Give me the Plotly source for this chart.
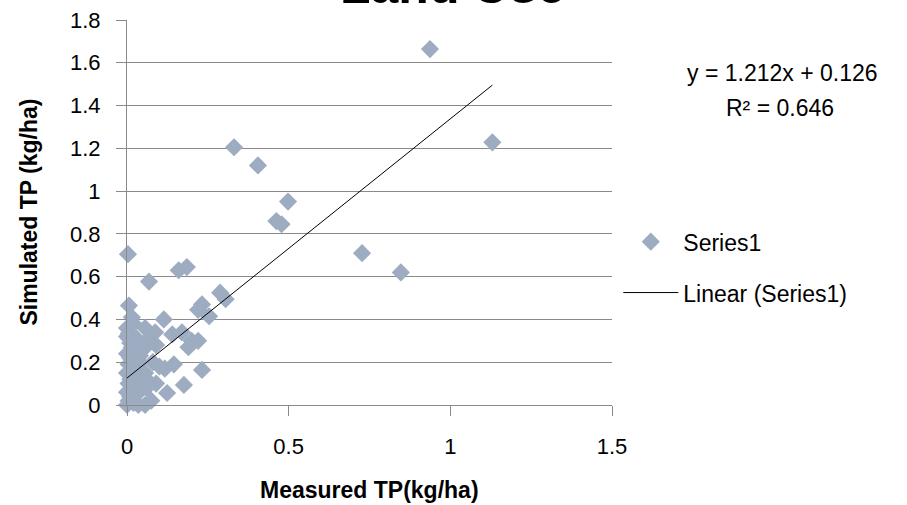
import plotly.graph_objects as go

# Measured vs simulated TP (kg/ha)
measured = [0.937, 1.130, 0.331, 0.405, 0.498, 0.462, 0.478, 0.727, 0.847,
            0.003, 0.160, 0.185, 0.068, 0.288, 0.305, 0.232, 0.220, 0.254,
            0.006, 0.015, 0.114, 0.056, 0.087, 0.140, 0.170, 0.200, 0.220,
            0.006, 0.015, 0.190, 0.117, 0.145, 0.232, 0.176, 0.124, 0.056,
            0.056, 0.075, 0.030,
            0.000, 0.005, 0.010, 0.000, 0.020, 0.005, 0.010, 0.030, 0.000,
            0.020, 0.005, 0.040, 0.010, 0.000, 0.020, 0.040, 0.010, 0.030,
            0.000, 0.020, 0.050, 0.060, 0.045, 0.060, 0.035, 0.090, 0.080,
            0.100, 0.090, 0.060, 0.020, 0.015, 0.000, 0.030]
simulated = [1.664, 1.228, 1.205, 1.120, 0.951, 0.860, 0.845, 0.710, 0.620,
             0.705, 0.630, 0.645, 0.577, 0.525, 0.495, 0.470, 0.445, 0.415,
             0.465, 0.410, 0.400, 0.360, 0.340, 0.330, 0.340, 0.300, 0.300,
             0.335, 0.270, 0.270, 0.170, 0.190, 0.164, 0.094, 0.056, 0.150,
             0.000, 0.020, 0.050,
             0.000, 0.020, 0.040, 0.060, 0.080, 0.100, 0.120, 0.130, 0.150,
             0.170, 0.190, 0.200, 0.220, 0.240, 0.250, 0.230, 0.290, 0.310,
             0.360, 0.380, 0.260, 0.300, 0.100, 0.080, 0.000, 0.100, 0.200,
             0.180, 0.280, 0.120, 0.010, 0.140, 0.320, 0.190]

# Trendline coefficients as printed on the chart
slope = 1.212
intercept = 0.126
r_squared = 0.646

x_ticks = [0, 0.5, 1, 1.5]
y_ticks = [0, 0.2, 0.4, 0.6, 0.8, 1.0, 1.2, 1.4, 1.6, 1.8]

FONT = "Liberation Sans, Arial, sans-serif"
GRID = "#8a8a8a"

x_fit = [min(measured), max(measured)]
y_fit = [slope * v + intercept for v in x_fit]

fig = go.Figure()
fig.add_trace(go.Scatter(
    x=measured, y=simulated, mode="markers", name="Series1",
    marker=dict(symbol="diamond", size=14, color="#9DACC0", line=dict(width=0)),
    cliponaxis=False, legendgroup="a"))
fig.add_trace(go.Scatter(
    x=x_fit, y=y_fit, mode="lines", name="Linear (Series1)",
    line=dict(color="black", width=1), legendgroup="b"))

fig.update_layout(
    width=907, height=505,
    margin=dict(l=127, r=295, t=20, b=100),
    plot_bgcolor="white", paper_bgcolor="white",
    font=dict(family=FONT, size=22, color="black"),
    showlegend=True,
    legend=dict(x=1.013, xanchor="left", y=0.48, yanchor="top",
                font=dict(size=23), tracegroupgap=18, itemwidth=55,
                bgcolor="rgba(0,0,0,0)"),
    xaxis=dict(range=[0, 1.5], tickvals=x_ticks, showgrid=False,
               showline=True, linecolor=GRID, linewidth=1,
               ticks="outside", ticklen=10, tickcolor=GRID,
               ticklabelstandoff=12, zeroline=False, automargin=False,
               ticklabeloverflow="allow"),
    yaxis=dict(range=[0, 1.8], tickvals=y_ticks, showgrid=True,
               gridcolor=GRID, gridwidth=1,
               showline=True, linecolor=GRID, linewidth=1,
               ticks="outside", ticklen=10, tickcolor=GRID,
               ticklabelstandoff=11, zeroline=False, automargin=False,
               ticklabeloverflow="allow"),
)

fig.add_annotation(text="<b>Land Use</b>", xref="paper", yref="paper",
                   x=0.672, y=1.011, xanchor="center", yanchor="bottom",
                   showarrow=False, font=dict(size=50, family=FONT))
fig.add_annotation(text="<b>Measured TP(kg/ha)</b>", xref="paper", yref="paper",
                   x=0.499, y=-0.221, xanchor="center", yanchor="middle",
                   showarrow=False, font=dict(size=23, family=FONT))
fig.add_annotation(text="<b>Simulated TP (kg/ha)</b>", xref="paper", yref="paper",
                   x=-0.204, y=0.5, xanchor="center", yanchor="middle", textangle=-90,
                   showarrow=False, font=dict(size=23, family=FONT))
fig.add_annotation(text=f"y = {slope}x + {intercept}", xref="paper", yref="paper",
                   x=(782 - 127) / 485, y=(405 - 73) / 385, xanchor="center", yanchor="middle",
                   showarrow=False, font=dict(size=23, family=FONT))
fig.add_annotation(text=f"R² = {r_squared}", xref="paper", yref="paper",
                   x=(780 - 127) / 485, y=(405 - 108) / 385, xanchor="center", yanchor="middle",
                   showarrow=False, font=dict(size=23, family=FONT))

# remove the default 8px page margin so the figure fills the window exactly
fig.write_html("out.html", config={"displayModeBar": False},
               post_script="document.body.style.margin='0px';document.body.style.overflow='hidden';")
